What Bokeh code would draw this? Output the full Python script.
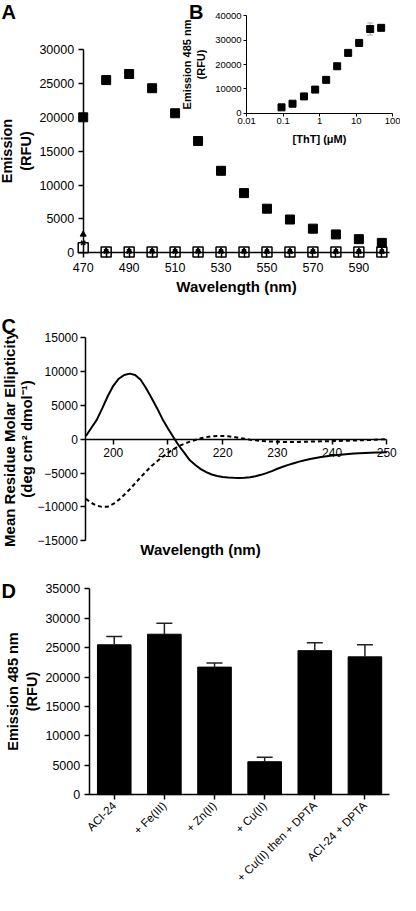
import math
from bokeh.plotting import figure
from bokeh.models import (ColumnDataSource, FixedTicker, LinearAxis, LogAxis, Label, Whisker,
                          TeeHead, Range1d, LogScale)
from bokeh.layouts import column
from bokeh.embed import file_html
from bokeh.resources import INLINE

FONT = "Liberation Sans"

# ---------------- data ----------------
# Panel A: emission spectra
a_wavelength = [470, 480, 490, 500, 510, 520, 530, 540, 550, 560, 570, 580, 590, 600]
a_aci24_tht = [20000, 25500, 26400, 24300, 20600, 16500, 12100, 8800, 6500, 4900, 3550, 2700, 2000, 1450]
a_ctrl_open = [730, 120, 120, 120, 120, 120, 120, 110, 110, 110, 110, 110, 110, 110]
a_ctrl_tri = [2700, 250, 250, 250, 250, 250, 230, 220, 220, 200, 200, 200, 200, 200]
a_ctrl_x = [1450, 200, 200, 200, 200, 200, 180, 180, 170, 170, 170, 170, 170, 170]
a_x_ticks = [470, 490, 510, 530, 550, 570, 590]
a_x_minor = [480, 500, 520, 540, 560, 580, 600]
a_y_ticks = [0, 5000, 10000, 15000, 20000, 25000, 30000]

# Panel B: ThT titration (inset)
b_conc = [0.09, 0.18, 0.37, 0.75, 1.5, 3, 6, 12, 24, 48]
b_emission = [2400, 3900, 6900, 9700, 13700, 19300, 24800, 28900, 34600, 35100]
b_err = [300, 300, 400, 500, 600, 700, 700, 1200, 2500, 600]
b_x_ticks = [0.01, 0.1, 1, 10, 100]
b_x_labels = ["0.01", "0.1", "1", "10", "100"]
b_y_ticks = [0, 10000, 20000, 30000, 40000]

# Panel C: CD spectra
c_wavelength = list(range(195, 251))
c_solid = [480, 1700, 2900, 4600, 6400, 7900, 8950, 9500, 9700, 9500,
           8800, 7550, 6100, 4600, 2980, 1600, 300, -950, -2000, -3100,
           -3800, -4400, -4850, -5200, -5430, -5560, -5640, -5680, -5700, -5680,
           -5600, -5450, -5250, -5000, -4700, -4350, -4050, -3780, -3530, -3300,
           -3100, -2920, -2760, -2620, -2500, -2400, -2310, -2230, -2160, -2100,
           -2060, -2020, -1990, -1960, -1940, -1920]
c_dashed = [-8800, -9400, -9800, -10000, -9950, -9550, -8950, -8200, -7400, -6500,
            -5600, -4750, -3950, -3250, -2600, -2000, -1450, -1000, -650, -350,
            -100, 150, 320, 430, 490, 490, 440, 350, 220, 80,
            -50, -150, -230, -290, -330, -360, -380, -390, -390, -380,
            -360, -340, -320, -300, -280, -260, -240, -220, -200, -180,
            -160, -130, -100, -60, -10, 40]
c_x_ticks = [200, 210, 220, 230, 240, 250]
c_y_ticks = [-15000, -10000, -5000, 0, 5000, 10000, 15000]

# Panel D: metal effects
d_labels = ["ACI-24", "+ Fe(III)", "+ Zn(II)", "+ Cu(II)", "+ Cu(II) then + DPTA", "ACI-24 + DPTA"]
d_mean = [25500, 27300, 21700, 5600, 24500, 23450]
d_sem = [1400, 1850, 700, 750, 1350, 2050]
d_y_ticks = [0, 5000, 10000, 15000, 20000, 25000, 30000, 35000]

# ---------------- layout helpers ----------------
W = 400
HA, HC, HD = 304, 254, 337
SX, SY = 400 / 416, 895 / 911   # reference -> page scale


def span(va, pa, vb, pb, size, down=False):
    """range (start, end) so that value va sits at pixel pa and vb at pb"""
    k = (vb - va) / (pb - pa)
    v0 = va - pa * k
    v1 = v0 + size * k
    return (v1, v0) if down else (v0, v1)


def px_value(rng, px, size, down=False):
    s, e = rng
    return e - (e - s) * px / size if down else s + (e - s) * px / size


def style_axis(ax, label_size, title_size, tick_out=5, standoff=4, title_standoff=4, lw=1.5):
    ax.axis_line_color = "black"
    ax.axis_line_width = lw
    ax.major_tick_line_color = "black"
    ax.major_tick_line_width = lw
    ax.major_tick_out = tick_out
    ax.major_tick_in = 0
    ax.minor_tick_line_color = None
    ax.major_label_text_font = FONT
    ax.major_label_text_font_size = label_size
    ax.major_label_text_color = "black"
    ax.major_label_standoff = standoff
    ax.axis_label_text_font = FONT
    ax.axis_label_text_font_size = title_size
    ax.axis_label_text_font_style = "bold"
    ax.axis_label_text_color = "black"
    ax.axis_label_standoff = title_standoff


def letter(p, text, x, y, **kw):
    p.add_layout(Label(x=x, y=y, text=text, text_font=FONT, text_font_size="20px",
                       text_font_style="bold", text_baseline="top", text_align="left",
                       text_color="black", **kw))


def make_fig(h, xr, yr):
    p = figure(width=W, height=h, x_range=Range1d(*xr), y_range=Range1d(*yr),
               output_backend="svg", toolbar_location=None, title=None,
               x_axis_location=None, y_axis_location=None, min_border=0,
               min_border_left=0, min_border_right=0, min_border_top=0, min_border_bottom=0,
               outline_line_color=None)
    p.grid.visible = False
    return p


# ---------------- Panel A (+ inset B) ----------------
ax_r = span(470, 86 * SX, 590, 372.7 * SX, W)
ay_r = span(0, 256.7 * SY, 30000, 50 * SY, HA, down=True)
pA = make_fig(HA, ax_r, ay_r)

xa = LinearAxis(fixed_location=0, bounds=(470, 603.5), axis_label="Wavelength (nm)",
                ticker=FixedTicker(ticks=a_x_ticks, minor_ticks=a_x_minor))
style_axis(xa, "12.5px", "15px", standoff=5, title_standoff=3)
xa.minor_tick_line_color = "black"
xa.minor_tick_line_width = 1.5
xa.minor_tick_out = 5
xa.minor_tick_in = 0
pA.add_layout(xa, "below")
ya = LinearAxis(fixed_location=470, bounds=(0, 30000), axis_label="Emission\n(RFU)",
                ticker=FixedTicker(ticks=a_y_ticks))
style_axis(ya, "12.5px", "14.5px", standoff=4, title_standoff=3)
pA.add_layout(ya, "left")

pA.scatter(a_wavelength, a_ctrl_open, marker="square", size=10, fill_color="white",
           line_color="black", line_width=1.5)
pA.scatter(a_wavelength, a_ctrl_x, marker="x", size=6, line_color="black", line_width=1.5)
pA.scatter(a_wavelength, a_ctrl_tri, marker="triangle", size=6, color="black")
pA.scatter(a_wavelength, a_aci24_tht, marker="square", size=9, color="black")

# inset B drawn on its own (log) scales inside panel A's canvas
lx0, lx1 = span(math.log10(b_x_ticks[0]), 256 * SX, math.log10(b_x_ticks[-1]), 408 * SX, W)
pA.extra_x_ranges = {"bx": Range1d(10 ** lx0, 10 ** lx1)}
pA.extra_x_scales = {"bx": LogScale()}
pA.extra_y_ranges = {"by": Range1d(*span(0, 114.7 * SY, 40000, 15.7 * SY, HA, down=True))}

xb = LogAxis(x_range_name="bx", y_range_name="by", fixed_location=0,
             bounds=(b_x_ticks[0], b_x_ticks[-1]), axis_label="[ThT] (\u03bcM)",
             ticker=FixedTicker(ticks=b_x_ticks))
xb.major_label_overrides = {t: s for t, s in zip(b_x_ticks, b_x_labels)}
style_axis(xb, "9.5px", "11px", tick_out=3, standoff=2, title_standoff=5, lw=1)
pA.add_layout(xb, "below")
yb = LinearAxis(x_range_name="bx", y_range_name="by", fixed_location=b_x_ticks[0],
                bounds=(0, 40000), axis_label="Emission 485 nm\n(RFU)",
                ticker=FixedTicker(ticks=b_y_ticks))
style_axis(yb, "9.5px", "11px", tick_out=3, standoff=2, title_standoff=5, lw=1)
pA.add_layout(yb, "left")

b_src = ColumnDataSource(dict(x=b_conc, y=b_emission,
                              lo=[v - e for v, e in zip(b_emission, b_err)],
                              hi=[v + e for v, e in zip(b_emission, b_err)]))
pA.add_layout(Whisker(base="x", lower="lo", upper="hi", source=b_src, line_color="#aaaaaa",
                      line_width=1, x_range_name="bx", y_range_name="by",
                      upper_head=TeeHead(size=6, line_color="#aaaaaa", line_width=1),
                      lower_head=TeeHead(size=6, line_color="#aaaaaa", line_width=1)))
pA.scatter("x", "y", source=b_src, marker="square", size=7, color="black",
           x_range_name="bx", y_range_name="by")

letter(pA, "A", px_value(ax_r, 1 * SX, W), ay_r[1])
letter(pA, "B", px_value(ax_r, 196 * SX, W), ay_r[1])

# ---------------- Panel C ----------------
topC = 304
cx_r = span(200, 117.3 * SX, 250, 401.7 * SX, W)
cy_r = span(15000, 343.3 * SY - topC, -15000, 550 * SY - topC, HC, down=True)
pC = make_fig(HC, cx_r, cy_r)
xc = LinearAxis(fixed_location=0, bounds=(195, 250), ticker=FixedTicker(ticks=c_x_ticks))
style_axis(xc, "12px", "14.5px", standoff=4)
pC.add_layout(xc, "below")
xc_title = LinearAxis(fixed_location=-15000, axis_label="Wavelength (nm)",
                      ticker=FixedTicker(ticks=[]))
style_axis(xc_title, "0px", "15px", tick_out=0, standoff=0, title_standoff=0)
xc_title.axis_line_color = None
xc_title.major_tick_line_color = None
pC.add_layout(xc_title, "below")
yc = LinearAxis(fixed_location=195, bounds=(-15000, 15000), ticker=FixedTicker(ticks=c_y_ticks),
                axis_label="Mean Residue Molar Ellipticity\n(deg cm\u00b2 dmol\u207b\u00b9)")
style_axis(yc, "12px", "15px", standoff=3, title_standoff=-1)
yc.axis_label_text_line_height = 1.0
pC.add_layout(yc, "left")
pC.line(c_wavelength, c_dashed, line_color="black", line_width=2, line_dash="4 3")
pC.line(c_wavelength, c_solid, line_color="black", line_width=2)
letter(pC, "C", px_value(cx_r, 1 * SX, W), px_value(cy_r, 320 * SY - topC, HC, down=True))

# ---------------- Panel D ----------------
topD = 558
d_pos = list(range(len(d_labels)))
dx_r = span(d_pos[0], 118.3 * SX, d_pos[-1], 379 * SX, W)
dy_r = span(0, 808.3 * SY - topD, 35000, 599 * SY - topD, HD, down=True)
pD = make_fig(HD, dx_r, dy_r)
xd = LinearAxis(fixed_location=0, bounds=(d_pos[0] - 0.5, d_pos[-1] + 0.5),
                ticker=FixedTicker(ticks=d_pos))
xd.major_label_overrides = {i: s for i, s in zip(d_pos, d_labels)}
style_axis(xd, "11.5px", "14px", standoff=4)
xd.major_label_orientation = math.pi / 4
pD.add_layout(xd, "below")
yd = LinearAxis(fixed_location=d_pos[0] - 0.5, bounds=(0, 35000), axis_label="Emission 485 nm\n(RFU)",
                ticker=FixedTicker(ticks=d_y_ticks))
style_axis(yd, "12.5px", "14.5px", standoff=4, title_standoff=3)
pD.add_layout(yd, "left")
d_src = ColumnDataSource(dict(x=d_pos, top=d_mean, hi=[m + s for m, s in zip(d_mean, d_sem)]))
pD.vbar(x="x", top="top", width=0.67, source=d_src, color="black")
pD.add_layout(Whisker(base="x", lower="top", upper="hi", source=d_src, line_color="#222222",
                      line_width=1.5, level="overlay", lower_head=None,
                      upper_head=TeeHead(size=16, line_color="#222222", line_width=1.5)))
letter(pD, "D", px_value(dx_r, 1 * SX, W), px_value(dy_r, 590 * SY - topD, HD, down=True))

layout = column(pA, pC, pD, spacing=0)

open("out.html", "w").write(file_html(layout, INLINE))
